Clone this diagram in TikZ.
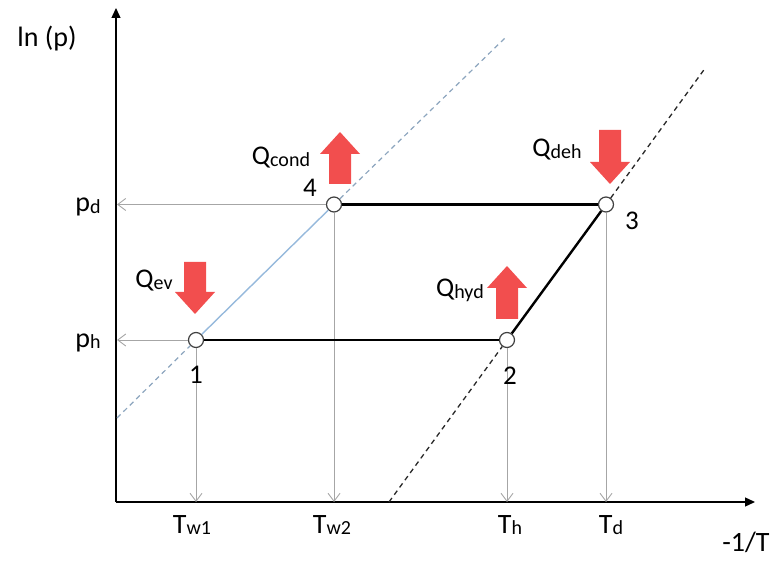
\documentclass[tikz,border=0pt]{standalone}
\usepackage{fontspec}
\setmainfont{Carlito}
\usetikzlibrary{arrows.meta}
\definecolor{qred}{RGB}{242,78,78}
\definecolor{garr}{RGB}{166,166,166}
\definecolor{bluedash}{RGB}{140,165,190}
\definecolor{bluesolid}{RGB}{150,185,220}
\definecolor{blkdash}{RGB}{40,40,40}
\newcommand\sbs[1]{\raisebox{-1.5pt}{\fontsize{20}{20}\selectfont #1}}
\newcommand\qarrow[4]{\fill[qred] ({#1-11},#2) -- ({#1-11},#3) -- ({#1-20},#3) -- (#1,#4) -- ({#1+20},#3) -- ({#1+11},#3) -- ({#1+11},#2) -- cycle;}
\begin{document}
\begin{tikzpicture}[x=1pt,y=-1pt,
  axis/.style={line width=1.3pt,-{Triangle[length=10pt,width=9pt]}},
  guide/.style={garr,line width=0.9pt,-{Straight Barb[length=8pt,width=12pt]}},
  cyc/.style={line width=2.4pt},
  pnt/.style={circle,draw=black!75,fill=white,line width=1.2pt,minimum size=15pt,inner sep=0pt},
  lbl/.style={font=\fontsize{28}{30}\selectfont,anchor=base,inner sep=0pt},
  qlbl/.style={font=\fontsize{27}{29}\selectfont,anchor=base,inner sep=0pt},
  bdash/.style={bluedash,line width=1.2pt,dash pattern=on 5pt off 4pt},
  kdash/.style={blkdash,line width=1.3pt,dash pattern=on 5pt off 4pt}]
\useasboundingbox (0,0) rectangle (779,561);
% axes
\coordinate (o) at (116,502);
\coordinate (ytop) at (116,8);
\coordinate (xend) at (755,502);
\draw[axis] (o) -- (ytop);
\draw[axis] (o) -- (xend);
% state points
\node[pnt] (p1) at (196,340) {};
\node[pnt] (p2) at (507,340) {};
\node[pnt] (p3) at (606,204.5) {};
\node[pnt] (p4) at (334,204.5) {};
% guide arrows
\coordinate (x1) at (196,502);
\coordinate (x2) at (507,502);
\coordinate (x3) at (606,502);
\coordinate (x4) at (334,502);
\coordinate (y1) at (117,340);
\coordinate (y4) at (117,204.5);
\draw[guide] (p1) -- (x1);
\draw[guide] (p2) -- (x2);
\draw[guide] (p3) -- (x3);
\draw[guide] (p4) -- (x4);
\draw[guide] (p1) -- (y1);
\draw[guide] (p4) -- (y4);
% equilibrium lines
\coordinate (b0) at (117,418);
\coordinate (b1) at (505,38);
\draw[bdash] (b0) -- (p1);
\draw[bluesolid,line width=1.4pt] (p1) -- (p4);
\draw[bdash] (p4) -- (b1);
\coordinate (k0) at (389,502);
\coordinate (k1) at (706,67);
\draw[kdash] (k0) -- (p2);
\draw[kdash] (p3) -- (k1);
% cycle
\draw[cyc] (p1) -- (p2);
\draw[cyc] (p2) -- (p3);
\draw[cyc] (p4) -- (p3);
% heat arrows
\qarrow{195}{262}{292}{314}
\qarrow{340}{184}{154}{132}
\qarrow{507}{319}{288}{266}
\qarrow{610}{130}{162}{184}
% labels
\node[lbl] (lnp) at (47,47) {ln (p)};
\node[lbl] (invT) at (746,551) {-1/T};
\node[lbl] (pd) at (88,212) {p\sbs{d}};
\node[lbl] (ph) at (88,347) {p\sbs{h}};
\node[lbl] (tw1) at (192,533) {T\sbs{w1}};
\node[lbl] (tw2) at (332,533) {T\sbs{w2}};
\node[lbl] (th) at (510,533) {T\sbs{h}};
\node[lbl] (td) at (611,533) {T\sbs{d}};
\node[qlbl] (n1) at (196,383) {1};
\node[qlbl] (n2) at (510,384) {2};
\node[qlbl] (n3) at (632,230) {3};
\node[qlbl] (n4) at (310,197) {4};
\node[qlbl] (qev) at (154,288) {Q\sbs{ev}};
\node[qlbl] (qcond) at (281,165) {Q\sbs{cond}};
\node[qlbl] (qhyd) at (460,297) {Q\sbs{hyd}};
\node[qlbl] (qdeh) at (557,157) {Q\sbs{deh}};
\end{tikzpicture}
\end{document}
